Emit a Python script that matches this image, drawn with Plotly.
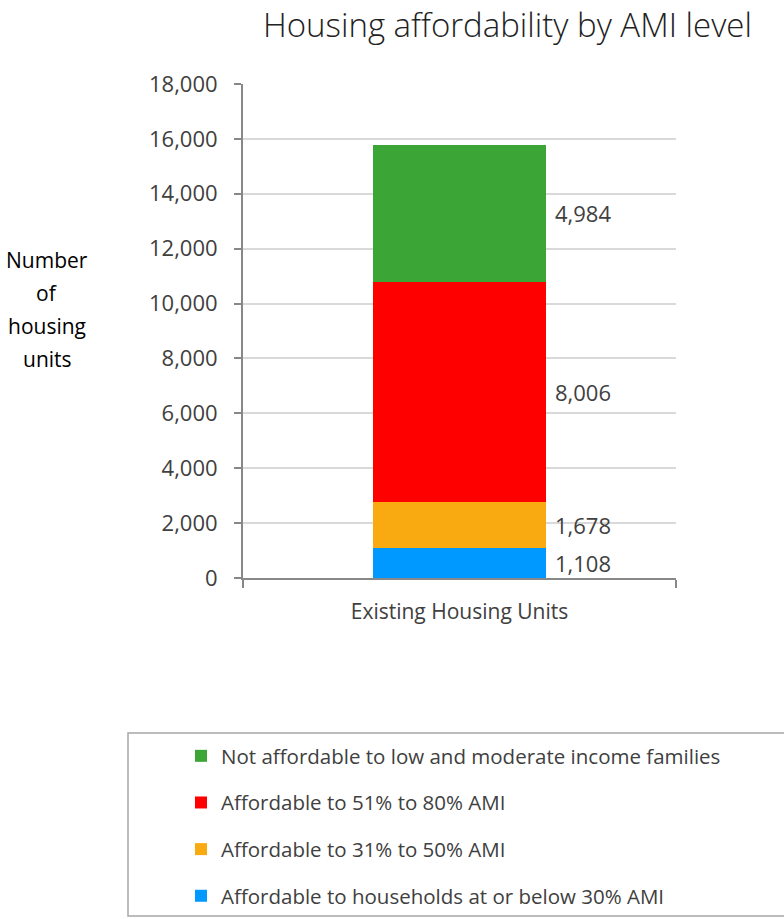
import plotly.graph_objects as go

# Housing stock split by affordability band (number of units)
category = ["Existing Housing Units"]
series_names = [
    "Affordable to households at or below 30% AMI",
    "Affordable to 31% to 50% AMI",
    "Affordable to 51% to 80% AMI",
    "Not affordable to low and moderate income families",
]
series_values = [1108, 1678, 8006, 4984]
series_colors = ["#0099FF", "#F8AA10", "#FF0000", "#3BA535"]
y_ticks = list(range(0, 18001, 2000))
y_title_lines = ["Number", "of", "housing", "units"]

FONT = "Open Sans"
W, H = 784, 919
ML, MR, MT, MB = 243, 108, 84, 341
PW, PH = W - ML - MR, H - MT - MB
BAR_W = 0.4


def px_x(p):
    return (p - ML) / PW


def px_y(p):
    return (H - MB - p) / PH


fig = go.Figure()
n = len(series_names)
for i, (name, val, col) in enumerate(zip(series_names, series_values, series_colors)):
    fig.add_trace(go.Bar(
        x=category, y=[val], name=name, marker=dict(color=col, line=dict(width=0)),
        width=BAR_W, legendgroup=f"g{i}", legendrank=n - i, hoverinfo="y+name",
    ))

# value labels to the right of each stacked segment
annotations = []
base = 0
for val in series_values:
    annotations.append(dict(
        x=category[0], y=base + val / 2, xref="x", yref="y",
        text=f"{val:,}", showarrow=False, xanchor="left",
        xshift=PW * BAR_W / 2 + 7,
        font=dict(family=FONT, size=22, color="#404040"),
    ))
    base += val

# vertical axis title, one line per annotation for wider line spacing
for k, line in enumerate(y_title_lines):
    annotations.append(dict(
        x=px_x(47), y=px_y(260 + 33 * k), xref="paper", yref="paper",
        text=line, showarrow=False, xanchor="center", yanchor="middle",
        font=dict(family=FONT, size=21, color="#000000"),
    ))

# chart title, kept fully inside the page
annotations.append(dict(
    x=px_x(507), y=px_y(1), xref="paper", yref="paper",
    text="Housing affordability by AMI level", showarrow=False,
    xanchor="center", yanchor="top", borderpad=0,
    font=dict(family=FONT, size=33, color="#222222", weight=300),
))

shapes = [dict(
    type="rect", xref="paper", yref="paper",
    x0=px_x(128), x1=px_x(790), y0=px_y(916), y1=px_y(733),
    line=dict(color="#A6A6A6", width=1.5), fillcolor="rgba(0,0,0,0)",
)]

fig.update_layout(
    width=W, height=H,
    margin=dict(l=ML, r=MR, t=MT, b=MB, autoexpand=False),
    paper_bgcolor="white", plot_bgcolor="white",
    barmode="stack",
    showlegend=True,
    legend=dict(
        x=px_x(181), y=px_y(736), xanchor="left", yanchor="top",
        traceorder="grouped", tracegroupgap=17,
        font=dict(family=FONT, size=20.5, color="#404040"),
        bgcolor="rgba(0,0,0,0)", borderwidth=0,
    ),
    annotations=annotations,
    shapes=shapes,
    xaxis=dict(
        type="category", range=[-0.5, 0.5],
        showline=True, linecolor="#888888", linewidth=2,
        ticks="outside", tickson="boundaries", ticklen=8, tickcolor="#888888", tickwidth=2,
        tickfont=dict(family=FONT, size=21, color="#404040"),
        ticklabelstandoff=14, showgrid=False, fixedrange=True,
    ),
    yaxis=dict(
        range=[0, 18000], tickvals=y_ticks, ticktext=[f"{v:,}" for v in y_ticks],
        showline=True, linecolor="#888888", linewidth=2,
        ticks="outside", ticklen=7, tickcolor="#888888", tickwidth=2,
        tickfont=dict(family=FONT, size=22, color="#404040"),
        ticklabelstandoff=12,
        showgrid=True, gridcolor="#D9D9D9", gridwidth=1.5,
        zeroline=False, fixedrange=True,
    ),
)

fig.write_html("out.html")
